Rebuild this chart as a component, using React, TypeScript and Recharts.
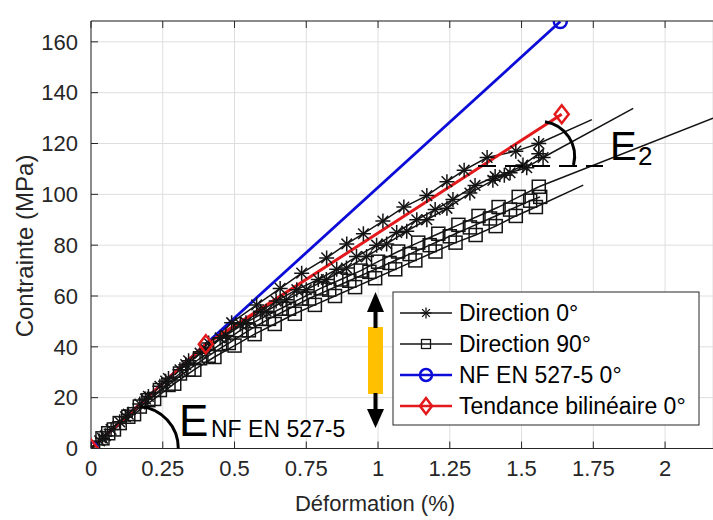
import React from 'react';
import { LineChart, Line, XAxis, YAxis, CartesianGrid } from 'recharts';

if (typeof document !== 'undefined') {
  document.body.style.margin = '0';
}

const FONT = '"Liberation Sans", Arial, Helvetica, sans-serif';

// Axis ticks
const X_TICKS = [0, 0.25, 0.5, 0.75, 1, 1.25, 1.5, 1.75, 2];
const Y_TICKS = [0, 20, 40, 60, 80, 100, 120, 140, 160];
const X_MAX = 2.167;
const Y_MAX = 168.2;

// Direction 0° specimens (strain %, stress MPa)
const dir0Specimen1: [number, number][] = [
  [0, 0], [0.03, 3], [0.07, 7.5], [0.13, 13.5], [0.2, 20.5], [0.27, 27.5], [0.34, 34.5],
  [0.41, 41.5], [0.49, 49.5], [0.577, 56.5], [0.659, 63], [0.734, 69], [0.821, 75],
  [0.891, 80.5], [0.949, 84.5], [1.017, 89.5], [1.09, 95], [1.17, 99.5], [1.24, 105],
  [1.3, 109.5], [1.38, 114.5], [1.48, 117], [1.56, 120],
];
const dir0Specimen2: [number, number][] = [
  [0, 0], [0.04, 4], [0.1, 10.5], [0.17, 17.5], [0.24, 24.5], [0.31, 31], [0.38, 37.5],
  [0.45, 43.5], [0.52, 49], [0.59, 54], [0.645, 58], [0.717, 62.5], [0.792, 66.5],
  [0.856, 70.5], [0.925, 75.5], [0.995, 80], [1.065, 85], [1.135, 90], [1.199, 94],
  [1.261, 98], [1.338, 103.5], [1.408, 107], [1.46, 108.5], [1.518, 110.5], [1.575, 114.5],
];
const dir0Specimen3: [number, number][] = [
  [0, 0], [0.05, 5], [0.12, 12.5], [0.19, 19.5], [0.26, 26.5], [0.33, 33], [0.4, 39],
  [0.47, 44.5], [0.54, 49.5], [0.61, 54], [0.68, 58.5], [0.75, 62.5], [0.82, 66.5],
  [0.89, 71], [0.96, 75.5], [1.03, 80.5], [1.1, 85.5], [1.17, 90], [1.24, 94.5],
  [1.32, 100.5], [1.4, 105.5], [1.44, 107.5], [1.505, 111.5], [1.56, 116],
];
const dir0Tail1: [number, number][] = [[1.56, 120], [1.745, 129.4]];
const dir0Tail2: [number, number][] = [[1.575, 114.5], [1.889, 133.8]];

// Direction 90° specimens
const dir90Specimen1: [number, number][] = [
  [0, 0], [0.04, 4], [0.1, 10], [0.17, 16.5], [0.24, 23], [0.31, 29.5], [0.38, 35.5],
  [0.45, 41], [0.52, 46.5], [0.59, 51], [0.66, 55], [0.73, 59], [0.8, 63], [0.87, 66.5],
  [0.94, 70], [1.0, 73.5], [1.07, 77.5], [1.14, 81], [1.21, 84.5], [1.28, 88],
  [1.35, 91.5], [1.42, 95], [1.49, 99], [1.56, 103],
];
const dir90Specimen2: [number, number][] = [
  [0, 0], [0.06, 6], [0.13, 12.5], [0.2, 19], [0.27, 25], [0.34, 31], [0.41, 36.5],
  [0.48, 41.5], [0.55, 46.5], [0.62, 51], [0.69, 55], [0.76, 59], [0.83, 62.5], [0.9, 66],
  [0.97, 69.5], [1.04, 73], [1.11, 76.5], [1.18, 80], [1.25, 83.5], [1.32, 87],
  [1.39, 90.5], [1.46, 94], [1.53, 97.5], [1.565, 99],
];
const dir90Specimen3: [number, number][] = [
  [0, 0], [0.08, 7.5], [0.15, 13.5], [0.22, 19.5], [0.29, 25.5], [0.36, 31], [0.43, 36],
  [0.5, 40.5], [0.57, 45], [0.64, 49], [0.71, 53], [0.78, 56.5], [0.85, 60], [0.92, 63.5],
  [0.99, 67], [1.06, 70.5], [1.13, 74], [1.2, 77.5], [1.27, 81], [1.34, 84], [1.41, 87.5],
  [1.48, 91.5], [1.55, 95],
];
const dir90Tail1: [number, number][] = [[1.56, 103], [2.167, 130]];
const dir90Tail3: [number, number][] = [[1.55, 95], [1.715, 103.6]];

// NF EN 527-5 0° and bilinear trend
const nfEn527: [number, number][] = [[0, 0], [1.635, 168]];
const bilinear: [number, number][] = [[0, 0], [0.4, 41], [1.64, 131.5]];

const LEGEND_LABELS = ['Direction 0°', 'Direction 90°', 'NF EN 527-5 0°', 'Tendance bilinéaire 0°'];

const toRows = (pts: [number, number][]) => pts.map(([x, y]) => ({ x, y }));

// Layout (page pixels)
const W = 713;
const H = 520;
const PL = 91;
const PT = 21;
const PR = 713;
const PB = 448.5;
const sx = (v: number) => PL + (v / X_MAX) * (PR - PL);
const sy = (v: number) => PB - (v / Y_MAX) * (PB - PT);

const BLACK = '#141414';
const BLUE = '#0c0cd8';
const RED = '#e3191c';

function Asterisk({ cx, cy, r = 7.5, color = BLACK, w = 1.5 }: any) {
  const d = r * 0.707;
  return (
    <g stroke={color} strokeWidth={w}>
      <line x1={cx - r} y1={cy} x2={cx + r} y2={cy} />
      <line x1={cx} y1={cy - r} x2={cx} y2={cy + r} />
      <line x1={cx - d} y1={cy - d} x2={cx + d} y2={cy + d} />
      <line x1={cx - d} y1={cy + d} x2={cx + d} y2={cy - d} />
    </g>
  );
}
function Square({ cx, cy, s = 13, color = BLACK, w = 1.5 }: any) {
  return <rect x={cx - s / 2} y={cy - s / 2} width={s} height={s} fill="none" stroke={color} strokeWidth={w} />;
}
function Circle({ cx, cy, r = 6.5, color = BLUE, w = 2.5 }: any) {
  return <circle cx={cx} cy={cy} r={r} fill="none" stroke={color} strokeWidth={w} />;
}
function Diamond({ cx, cy, h = 9, wd = 7, color = RED, w = 2.5 }: any) {
  return (
    <polygon
      points={`${cx},${cy - h} ${cx + wd},${cy} ${cx},${cy + h} ${cx - wd},${cy}`}
      fill="none"
      stroke={color}
      strokeWidth={w}
    />
  );
}

const dotFn = (Comp: any) => (p: any) => {
  if (p.cx == null || p.cy == null) return <g key={`n-${p.index}`} />;
  return <Comp key={`m-${p.index}`} cx={p.cx} cy={p.cy} />;
};

export default function App() {
  const blackSeries = [
    { id: 'd0a', data: dir0Specimen1, dot: dotFn(Asterisk) },
    { id: 'd0b', data: dir0Specimen2, dot: dotFn(Asterisk) },
    { id: 'd0c', data: dir0Specimen3, dot: dotFn(Asterisk) },
    { id: 'd90a', data: dir90Specimen1, dot: dotFn(Square) },
    { id: 'd90b', data: dir90Specimen2, dot: dotFn(Square) },
    { id: 'd90c', data: dir90Specimen3, dot: dotFn(Square) },
    { id: 't1', data: dir0Tail1, dot: false },
    { id: 't2', data: dir0Tail2, dot: false },
    { id: 't3', data: dir90Tail1, dot: false },
    { id: 't4', data: dir90Tail3, dot: false },
  ];

  const legendRows = [313, 344, 375, 406];
  const legendMarkers = [
    (cx: number, cy: number) => <Asterisk cx={cx} cy={cy} r={5.5} w={1.3} />,
    (cx: number, cy: number) => <Square cx={cx} cy={cy} s={9} w={1.3} />,
    (cx: number, cy: number) => <Circle cx={cx} cy={cy} r={6} />,
    (cx: number, cy: number) => <Diamond cx={cx} cy={cy} h={8} wd={6} />,
  ];
  const legendColors = [BLACK, BLACK, BLUE, RED];
  const legendWidths = [1.3, 1.3, 2.5, 2.5];

  return (
    <div style={{ position: 'relative', width: W, height: H, overflow: 'hidden', background: '#fff' }}>
      <LineChart width={W} height={H} margin={{ top: PT, right: W - PR, bottom: H - PB - 30, left: PL - 60 }}>
        <CartesianGrid stroke="#dedede" strokeWidth={1} />
        <XAxis
          type="number"
          dataKey="x"
          domain={[0, X_MAX]}
          ticks={X_TICKS}
          interval={0}
          allowDataOverflow
          height={30}
          tickSize={0}
          tickMargin={12}
          tickLine={false}
          axisLine={{ stroke: '#262626', strokeWidth: 1 }}
          tick={{ fontSize: 22, fill: '#262626', fontFamily: FONT }}
        />
        <YAxis
          type="number"
          dataKey="y"
          domain={[0, Y_MAX]}
          ticks={Y_TICKS}
          interval={0}
          allowDataOverflow
          width={60}
          tickSize={0}
          tickMargin={13}
          tickLine={false}
          axisLine={{ stroke: '#262626', strokeWidth: 1 }}
          tick={{ fontSize: 22, fill: '#262626', fontFamily: FONT }}
        />
        {blackSeries.map((s) => (
          <Line
            key={s.id}
            data={toRows(s.data)}
            dataKey="y"
            type="linear"
            stroke={BLACK}
            strokeWidth={1.5}
            dot={s.dot as any}
            activeDot={false}
            isAnimationActive={false}
            legendType="none"
          />
        ))}
        <Line
          data={toRows(nfEn527)}
          dataKey="y"
          type="linear"
          stroke={BLUE}
          strokeWidth={2.8}
          dot={dotFn(Circle)}
          activeDot={false}
          isAnimationActive={false}
        />
        <Line
          data={toRows(bilinear)}
          dataKey="y"
          type="linear"
          stroke={RED}
          strokeWidth={3}
          dot={dotFn(Diamond)}
          activeDot={false}
          isAnimationActive={false}
        />
      </LineChart>

      <svg
        width={W}
        height={H}
        style={{ position: 'absolute', left: 0, top: 0, pointerEvents: 'none', fontFamily: FONT }}
      >
        {/* top border and inner ticks */}
        <line x1={PL} y1={PT} x2={PR} y2={PT} stroke="#262626" strokeWidth={1} />
        {X_TICKS.map((t) => (
          <g key={`xt${t}`} stroke="#262626" strokeWidth={1}>
            <line x1={sx(t)} y1={PB} x2={sx(t)} y2={PB - 7} />
            <line x1={sx(t)} y1={PT} x2={sx(t)} y2={PT + 7} />
          </g>
        ))}
        {Y_TICKS.map((t) => (
          <line key={`yt${t}`} x1={PL} y1={sy(t)} x2={PL + 7} y2={sy(t)} stroke="#262626" strokeWidth={1} />
        ))}

        {/* axis titles */}
        <text x={375} y={511} fontSize={22} fill="#262626" textAnchor="middle">
          Déformation (%)
        </text>
        <text x={33} y={246} fontSize={24} fill="#262626" textAnchor="middle" transform="rotate(-90 33 246)">
          Contrainte (MPa)
        </text>

        {/* E NF EN 527-5 annotation */}
        <path d={`M 140 406.5 A 42 42 0 0 1 178.3 ${PB}`} fill="none" stroke="#000" strokeWidth={3} />
        <text x={179} y={436} fontSize={44} fill="#000">E</text>
        <text x={211} y={437} fontSize={23} fill="#000">NF EN 527-5</text>

        {/* E2 annotation */}
        <path d="M 545 121.7 A 35 35 0 0 1 573.5 165" fill="none" stroke="#000" strokeWidth={3} />
        <line x1={478} y1={166} x2={603} y2={166} stroke="#000" strokeWidth={2} strokeDasharray="18 9" />
        <text x={610} y={160} fontSize={40} fill="#000">E</text>
        <text x={638} y={165} fontSize={26} fill="#000">2</text>

        {/* orange bar with arrows */}
        <rect x={368} y={327} width={15} height={67} fill="#FFC000" />
        <rect x={373.5} y={309} width={4} height={19} fill="#000" />
        <polygon points="375.5,292 384,312 367,312" fill="#000" />
        <rect x={373.5} y={393} width={4} height={19} fill="#000" />
        <polygon points="375.5,428 384,409 367,409" fill="#000" />

        {/* legend */}
        <rect x={393} y={292} width={306} height={133} fill="#fff" stroke="#262626" strokeWidth={1} />
        {LEGEND_LABELS.map((lab, i) => (
          <g key={lab}>
            <line
              x1={400}
              y1={legendRows[i]}
              x2={452}
              y2={legendRows[i]}
              stroke={legendColors[i]}
              strokeWidth={legendWidths[i]}
            />
            {legendMarkers[i](426, legendRows[i])}
            <text x={459} y={legendRows[i] + 8.3} fontSize={23} fill="#000">
              {lab}
            </text>
          </g>
        ))}
      </svg>
    </div>
  );
}
